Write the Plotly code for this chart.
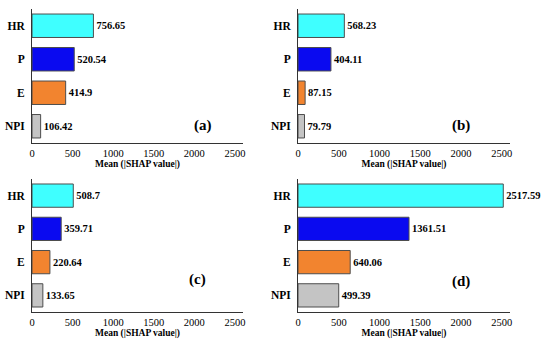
import plotly.graph_objects as go

categories = ["HR", "P", "E", "NPI"]
values_a = [756.65, 520.54, 414.9, 106.42]
values_b = [568.23, 404.11, 87.15, 79.79]
values_c = [508.7, 359.71, 220.64, 133.65]
values_d = [2517.59, 1361.51, 640.06, 499.39]
panel_labels = ["(a)", "(b)", "(c)", "(d)"]
x_ticks = [0, 500, 1000, 1500, 2000, 2500]
x_title = "Mean (|SHAP value|)"
colors = ["#3FFFFF", "#0A0AF0", "#F2842F", "#C4C4C4"]

W, H = 550, 344
FONT = "Liberation Serif"

# panel pixel boxes: (x0, x1, ytop, ybottom)
boxes = [(32, 243, 9, 143), (298, 510, 9, 143), (32, 243, 179, 312), (298, 510, 179, 312)]
label_pos = [(203, 125), (472, 125), (197, 290), (472, 292)]
all_vals = [values_a, values_b, values_c, values_d]

fig = go.Figure()
for i, (vals, box) in enumerate(zip(all_vals, boxes)):
    n = i + 1
    xa = "x" if n == 1 else f"x{n}"
    ya = "y" if n == 1 else f"y{n}"
    fig.add_trace(go.Bar(
        x=vals, y=categories, orientation="h",
        marker=dict(color=colors, line=dict(color="#4d4d4d", width=1)),
        width=0.7,
        text=[f"{v:g}" for v in vals], textposition="outside",
        texttemplate="<b>%{text}</b>",
        textfont=dict(family=FONT, size=10.5, color="black"),
        cliponaxis=False, constraintext="none",
        xaxis=xa, yaxis=ya, showlegend=False, hoverinfo="skip",
    ))
    x0, x1, yt, yb = box
    axkw = dict(
        domain=[x0 / W, x1 / W], range=[0, 2600], tickvals=x_ticks,
        showline=True, linecolor="#333333", linewidth=1, ticks="",
        showgrid=False, zeroline=False, automargin=False,
        tickprefix="<b>", ticksuffix="</b>",
        tickfont=dict(family=FONT, size=10.5, color="black"),
        title=dict(text=f"<b>{x_title}</b>", font=dict(family=FONT, size=9.5, color="black"), standoff=0),
        anchor=ya, fixedrange=True,
    )
    aykw = dict(
        domain=[1 - yb / H, 1 - yt / H], range=[3.5, -0.5],
        showline=True, linecolor="#333333", linewidth=1, ticks="",
        showgrid=False, zeroline=False, automargin=False,
        tickprefix="<b>", ticksuffix="</b>", ticklabelstandoff=4,
        tickfont=dict(family=FONT, size=11.5, color="black"),
        anchor=xa, fixedrange=True,
    )
    fig.update_layout(**{("xaxis" if n == 1 else f"xaxis{n}"): axkw,
                         ("yaxis" if n == 1 else f"yaxis{n}"): aykw})
    lx, ly = label_pos[i]
    fig.add_annotation(text=f"<b>{panel_labels[i]}</b>", x=lx / W, y=1 - ly / H,
                       xref="paper", yref="paper", showarrow=False,
                       font=dict(family=FONT, size=15, color="black"))

fig.update_layout(
    width=W, height=H, margin=dict(l=0, r=0, t=0, b=0),
    paper_bgcolor="white", plot_bgcolor="white",
    font=dict(family=FONT, size=11, color="black"),
)

fig.write_html("out.html", config={"displayModeBar": False},
               post_script="document.body.style.margin='0px';")
